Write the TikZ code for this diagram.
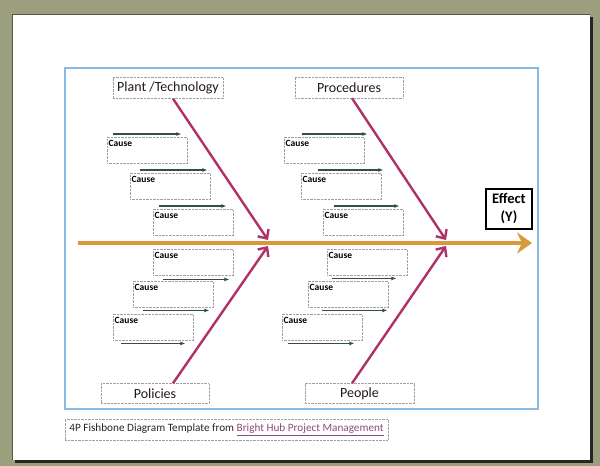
\documentclass[tikz,border=0pt]{standalone}
\usepackage{fontspec}
\setmainfont{Carlito}
\usepackage{tikz}
\usetikzlibrary{arrows.meta, positioning, calc}
\usepackage{xcolor}
\definecolor{olivebg}{HTML}{9C9F7E}
\definecolor{framebl}{HTML}{88BBE4}
\definecolor{spineor}{HTML}{D8993C}
\definecolor{bonemg}{HTML}{B0306A}
\definecolor{causegr}{HTML}{34503F}
\definecolor{linkpu}{HTML}{8E4A7E}
\definecolor{textdk}{HTML}{24181E}

\tikzset{
  catbox/.style={draw=gray!75, densely dotted, minimum height=21, inner sep=2pt, text=textdk, font=\fontsize{14}{15}\selectfont},
  causebox/.style={draw=gray!75, densely dotted, minimum width=80, minimum height=26, anchor=north west,
    label={[anchor=north west, inner xsep=1.5pt, inner ysep=3pt, font=\bfseries\fontsize{9.5}{10}\selectfont]north west:Cause}},
  effectbox/.style={draw=black, line width=1.1pt, minimum width=46, minimum height=40, inner sep=1pt, align=center, font=\bfseries\fontsize{14.5}{18}\selectfont},
  capbox/.style={draw=gray!75, densely dotted, minimum width=323, minimum height=21, inner sep=2pt, text=black!85, font=\fontsize{11.2}{13}\selectfont},
  spine/.style={spineor, line width=4.5pt, -{Stealth[length=15pt, width=21pt, inset=5pt]}},
  bone/.style={bonemg, line width=2.4pt, -{Straight Barb[length=7pt, width=13pt]}},
  causearr/.style={causegr, line width=1.8pt, -{Latex[length=5pt, width=4pt]}},
}

\begin{document}
\begin{tikzpicture}[x=1pt,y=-1pt]
  \useasboundingbox (0,0) rectangle (600,466);
  % page and frame
  \fill[olivebg] (0,0) rectangle (600,466);
  \fill[black!85] (15,17) rectangle (593,463);
  \fill[white] (12,14) rectangle (590,460);
  \draw[olivebg!55!black, line width=1pt] (12,460) -- (12,14) -- (590,14);
  \draw[framebl, line width=1.4pt] (65,68) rectangle (538,409);

  % categories and effect
  \node[catbox, minimum width=110] (plant) at (168,88) {Plant /Technology};
  \node[catbox, minimum width=108] (proc) at (349,87.5) {Procedures};
  \node[catbox, minimum width=108, minimum height=20] (policies) at (155,393.5) {Policies};
  \node[catbox, minimum width=109, minimum height=20] (people) at (359.5,393.5) {People};
  \node[effectbox] (effect) at (509,209) {Effect\\(Y)};

  % spine
  \coordinate (tail) at (78,243);
  \coordinate (head) at (532,243);
  \draw[spine] (tail) -- (head);

  % bones
  \coordinate (j1) at (268,240);
  \coordinate (j2) at (268,246);
  \coordinate (j3) at (446,240);
  \coordinate (j4) at (446,246);
  \draw[bone] ([xshift=5pt]plant.south) -- (j1);
  \draw[bone] ([xshift=18pt]policies.north) -- (j2);
  \draw[bone] ([xshift=3pt]proc.south) -- (j3);
  \draw[bone] ([xshift=-7.5pt]people.north) -- (j4);

  % causes
  \node[causebox] (pu1) at (107,137) {};
  \node[causebox] (pu2) at (130,173) {};
  \node[causebox] (pu3) at (153,209) {};
  \node[causebox] (pl1) at (153,249) {};
  \node[causebox] (pl2) at (133,281) {};
  \node[causebox] (pl3) at (113,314) {};
  \node[causebox] (ru1) at (284,137) {};
  \node[causebox] (ru2) at (301,173) {};
  \node[causebox] (ru3) at (323,209) {};
  \node[causebox] (rl1) at (327,249) {};
  \node[causebox] (rl2) at (308,281) {};
  \node[causebox] (rl3) at (282,314) {};

  \draw[causearr] ($(pu1.north west)+(6,-3)$) -- ($(pu1.north east)+(-6,-3)$);
  \draw[causearr] ($(pu2.north west)+(10,-3)$) -- ($(pu2.north east)+(-3,-3)$);
  \draw[causearr] ($(pu3.north west)+(6,-3)$) -- ($(pu3.north east)+(-7,-3)$);
  \draw[causearr] ($(ru1.north west)+(18,-3)$) -- ($(ru1.north east)+(3,-3)$);
  \draw[causearr] ($(ru2.north west)+(17,-3)$) -- ($(ru2.north east)+(2,-3)$);
  \draw[causearr] ($(ru3.north west)+(11,-3)$) -- ($(ru3.north east)+(-4,-3)$);
  \draw[causearr] ($(pl1.south west)+(10,4)$) -- ($(pl1.south east)+(-4,4)$);
  \draw[causearr] ($(pl2.south west)+(10,3)$) -- ($(pl2.south east)+(-4,3)$);
  \draw[causearr] ($(pl3.south west)+(8,3)$) -- ($(pl3.south east)+(-8,3)$);
  \draw[causearr] ($(rl1.south west)+(5,3)$) -- ($(rl1.south east)+(-11,3)$);
  \draw[causearr] ($(rl2.south west)+(14,3)$) -- ($(rl2.south east)+(-1,3)$);
  \draw[causearr] ($(rl3.south west)+(6,3)$) -- ($(rl3.south east)+(-8,3)$);

  % caption
  \node[capbox] (caption) at (226.5,429.5) {4P Fishbone Diagram Template from \textcolor{linkpu}{\underline{Bright Hub Project Management}}};
\end{tikzpicture}
\end{document}
